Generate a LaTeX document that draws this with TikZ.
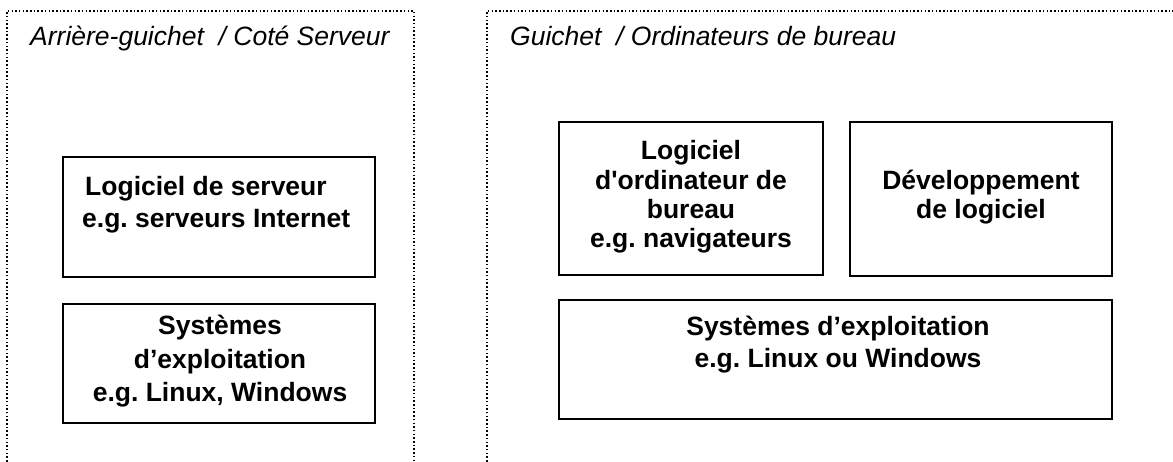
\documentclass[tikz,border=0pt]{standalone}
\usepackage{fontspec}
\setmainfont{Liberation Sans}[Ligatures=TeXOff]
\frenchspacing
\begin{document}
\begin{tikzpicture}[x=1pt,y=-1pt,
  frame/.style={draw, line width=1.5pt, dash pattern=on 1.5pt off 2.2pt},
  boxst/.style={draw, line width=2pt, inner sep=0pt},
  title/.style={anchor=base west, inner sep=0pt, font=\fontsize{26.5}{32}\selectfont\itshape},
  txt/.style={anchor=base, inner sep=0pt, font=\fontsize{26.5}{32}\selectfont\bfseries},
  txtl/.style={txt, anchor=base west},
]
\useasboundingbox (0,0) rectangle (1173,462);
\clip (0,0) rectangle (1173,462);
% frames
\draw[frame] (7,480) -- (7,11) -- (414,11) -- (414,480);
\draw[frame] (487,480) -- (487,11) -- (1200,11);
\node[title] (tl) at (30,46) {Arrière-guichet~ / Coté Serveur};
\node[title] (tr) at (510,46) {Guichet~ / Ordinateurs de bureau};
% boxes
\node[boxst, minimum width=312pt, minimum height=120pt] (srv) at (219,217) {};
\node[boxst, minimum width=312pt, minimum height=119pt] (los) at (219,363.5) {};
\node[boxst, minimum width=264pt, minimum height=153pt] (desk) at (691,198.5) {};
\node[boxst, minimum width=262pt, minimum height=154pt] (dev) at (981,199) {};
\node[boxst, minimum width=553pt, minimum height=119pt] (ros) at (835.5,359.5) {};
% texts
\node[txtl] (srv1) at (85,196) {Logiciel de serveur};
\node[txtl] (srv2) at (82,228) {e.g. serveurs Internet};
\node[txt] (los1) at (220,335) {Systèmes};
\node[txt] (los2) at (220,368) {d’exploitation};
\node[txt] (los3) at (220,401) {e.g. Linux, Windows};
\node[txt] (desk1) at (691,160) {Logiciel};
\node[txt] (desk2) at (691,189.5) {d'ordinateur de};
\node[txt] (desk3) at (691,219) {bureau};
\node[txt] (desk4) at (691,248) {e.g. navigateurs};
\node[txt] (dev1) at (981,189.5) {Développement};
\node[txt] (dev2) at (981,219) {de logiciel};
\node[txt] (ros1) at (838,336) {Systèmes d’exploitation};
\node[txt] (ros2) at (838,367) {e.g. Linux ou Windows};
\end{tikzpicture}
\end{document}
